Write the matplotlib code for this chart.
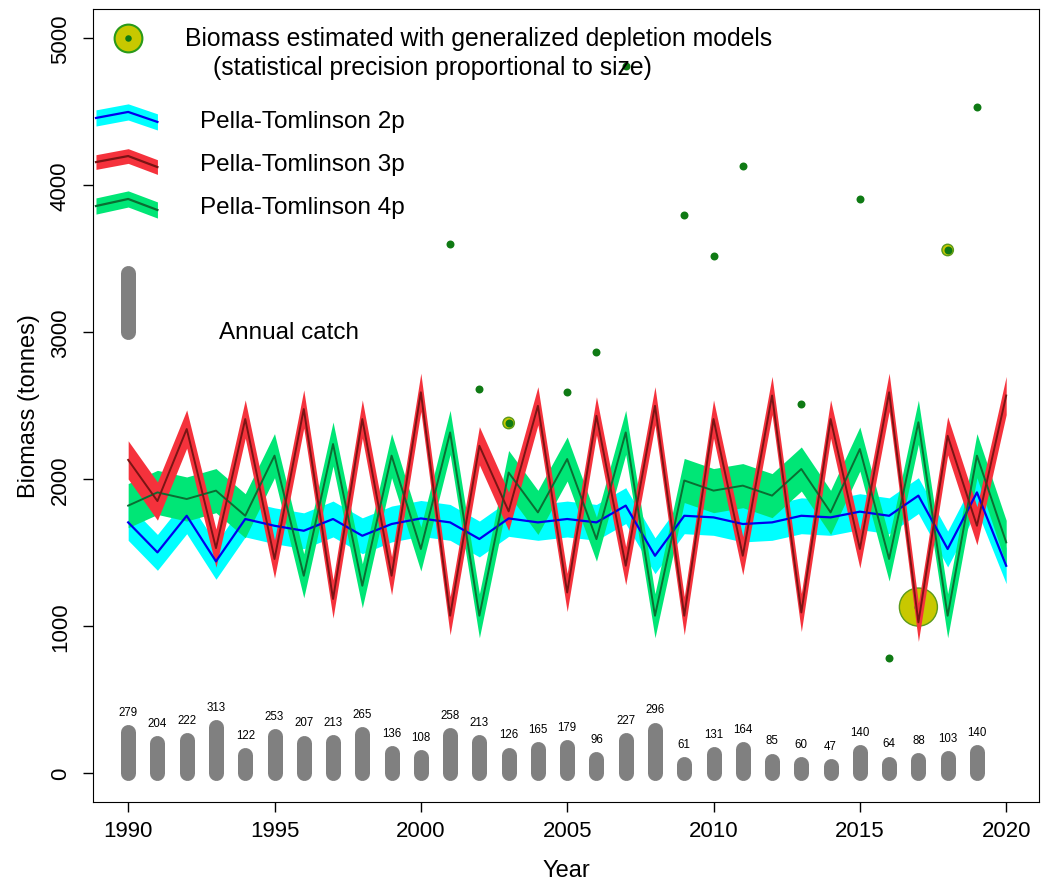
import numpy as np
import matplotlib.pyplot as plt

plt.rcParams['font.family'] = ['Liberation Sans', 'DejaVu Sans']

years = np.arange(1990, 2021)

# biomass trajectories (tonnes) of the three models
pt_2p = [1705, 1501, 1750, 1440, 1728, 1682, 1648, 1728, 1614, 1694, 1732, 1705, 1592, 1732, 1705, 1728,
         1705, 1819, 1478, 1750, 1739, 1694, 1705, 1750, 1739, 1778, 1750, 1887, 1524, 1909, 1410]
pt_3p = [2130, 1850, 2340, 1530, 2408, 1456, 2476, 1184, 2408, 1342, 2590, 1070, 2226, 1780, 2498, 1228,
         2430, 1410, 2498, 1070, 2408, 1478, 2568, 1092, 2408, 1524, 2590, 1025, 2294, 1682, 2568]
pt_4p = [1819, 1909, 1864, 1921, 1750, 2159, 1342, 2238, 1274, 2159, 1524, 2317, 1070, 2044, 1773, 2136,
         1591, 2317, 1070, 1990, 1921, 1955, 1887, 2068, 1773, 2204, 1456, 2386, 1070, 2159, 1569]
# half width of the confidence bands
ci_2p = 122
ci_3p = 130
ci_4p = 150

# biomass estimated with generalized depletion models
est_years = [2001, 2002, 2003, 2005, 2006, 2007, 2009, 2010, 2011, 2013, 2015, 2016, 2017, 2018, 2019]
est_biomass = [3600, 2612, 2381, 2592, 2864, 4810, 3796, 3517, 4129, 2510, 3905, 782, 1129, 3558, 4531]
est_precision = [0.2, 0.2, 1.1, 0.2, 0.2, 0.2, 0.2, 0.2, 0.2, 0.2, 0.2, 0.2, 3.65, 1.1, 0.2]

catch_years = np.arange(1990, 2020)
catch = [279, 204, 222, 313, 122, 253, 207, 213, 265, 136, 108, 258, 213, 126, 165,
         179, 96, 227, 296, 61, 131, 164, 85, 60, 47, 140, 64, 88, 103, 140]

cyan, blue = '#00ffff', '#0000ee'
red_band, red_line = '#f5323c', '#7a1414'
green_band, green_line = '#00e676', '#0a6e32'
dot_col = '#0f7a14'
yel = '#c8c800'

fig = plt.figure(figsize=(10.42, 8.87), dpi=100)
ax = fig.add_axes([0.0893, 0.0947, 0.9078, 0.894])

p2 = np.array(pt_2p)
p3 = np.array(pt_3p)
p4 = np.array(pt_4p)

# estimates: yellow circle size ~ precision (behind the model bands), green dot on top
sizes = (np.array(est_precision) * 7.5) ** 2
ax.scatter(est_years, est_biomass, s=sizes, facecolor=yel, edgecolor='#5a9a1a', lw=1.0, zorder=0.5)

ax.fill_between(years, p2 - ci_2p, p2 + ci_2p, color=cyan, lw=0)
ax.plot(years, p2, color=blue, lw=1.6)
ax.fill_between(years, p4 - ci_4p, p4 + ci_4p, color=green_band, lw=0)
ax.plot(years, p4, color=green_line, lw=1.4)
ax.fill_between(years, p3 - ci_3p, p3 + ci_3p, color=red_band, lw=0)
ax.plot(years, p3, color=red_line, lw=1.4)

ax.scatter(est_years, est_biomass, s=33, color=dot_col, lw=0, zorder=0.6)

# annual catch
ax.vlines(catch_years, 0, catch, colors='#808080', lw=10.8, capstyle='round', zorder=4)
for yr, c in zip(catch_years, catch):
    ax.annotate(str(c), (yr, c), xytext=(0, 14.5), textcoords='offset points',
                ha='center', va='center', fontsize=8.3)

# hand made legend
ax.scatter([1990], [5000], s=400, facecolor=yel, edgecolor='#2a9a1a', lw=1.5, zorder=5)
ax.scatter([1990], [5000], s=22, color=dot_col, lw=0, zorder=6)
ax.text(1991.95, 5000, 'Biomass estimated with generalized depletion models',
        fontsize=17.8, ha='left', va='center')
ax.text(1992.9, 4803, '(statistical precision proportional to size)',
        fontsize=17.8, ha='left', va='center')

lx = np.array([1988.9, 1990.0, 1991.0])
leg = [([4456, 4497, 4429], 55, cyan, blue, 'Pella-Tomlinson 2p', 4435),
       ([4156, 4197, 4122], 50, red_band, red_line, 'Pella-Tomlinson 3p', 4143),
       ([3857, 3905, 3830], 55, green_band, green_line, 'Pella-Tomlinson 4p', 3850)]
for ly, d, bc, lc, lab, ty in leg:
    ly = np.array(ly)
    ax.fill_between(lx, ly - d, ly + d, color=bc, lw=0)
    ax.plot(lx, ly, color=lc, lw=1.6)
    ax.text(1992.45, ty, lab, fontsize=17.5, ha='left', va='center')

ax.vlines([1990], 3000, 3400, colors='#808080', lw=10.8, capstyle='round')
ax.text(1995.5, 3000, 'Annual catch', fontsize=17.5, ha='center', va='center')

ax.set_xlim(1988.8, 2021.12)
ax.set_ylim(-197, 5197)
ax.set_xticks([1990, 1995, 2000, 2005, 2010, 2015, 2020])
ax.set_yticks([0, 1000, 2000, 3000, 4000, 5000])
ax.tick_params(direction='out', length=7, width=1, labelsize=16)
ax.tick_params(axis='y', pad=9)
ax.tick_params(axis='x', pad=6)
for lbl in ax.get_yticklabels():
    lbl.set_rotation(90)
    lbl.set_va('center')
ax.set_xlabel('Year', fontsize=17, labelpad=13)
ax.set_ylabel('Biomass (tonnes)', fontsize=17, labelpad=7)

plt.savefig('out.png', dpi=100)
